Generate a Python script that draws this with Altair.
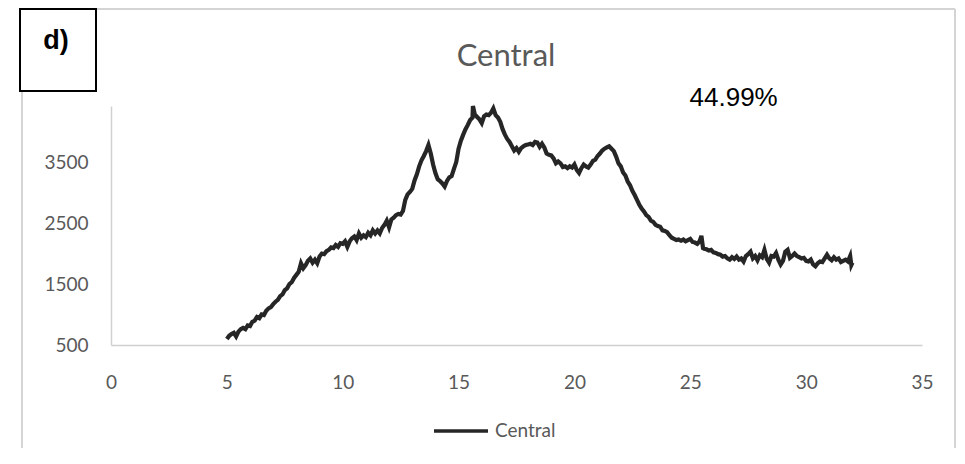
import altair as alt
import pandas as pd

# ---------------- data ----------------
x_vals = [
    5.00, 5.10, 5.20, 5.30, 5.40, 5.50, 5.60, 5.70, 5.80, 5.90,
    6.00, 6.10, 6.20, 6.30, 6.40, 6.50, 6.60, 6.70, 6.80, 6.90,
    7.00, 7.10, 7.20, 7.30, 7.40, 7.50, 7.60, 7.70, 7.80, 7.90,
    8.00, 8.10, 8.20, 8.30, 8.40, 8.50, 8.60, 8.70, 8.80, 8.90,
    9.00, 9.10, 9.20, 9.30, 9.40, 9.50, 9.60, 9.70, 9.80, 9.90,
    10.00, 10.10, 10.20, 10.30, 10.40, 10.50, 10.60, 10.70, 10.80, 10.90,
    11.00, 11.10, 11.20, 11.30, 11.40, 11.50, 11.60, 11.70, 11.80, 11.90,
    12.00, 12.10, 12.20, 12.30, 12.40, 12.50, 12.60, 12.70, 12.80, 12.90,
    13.00, 13.10, 13.20, 13.30, 13.40, 13.50, 13.60, 13.70, 13.80, 13.90,
    14.00, 14.10, 14.20, 14.30, 14.40, 14.50, 14.60, 14.70, 14.80, 14.90,
    15.00, 15.10, 15.20, 15.30, 15.40, 15.50, 15.60, 15.62, 15.70, 15.80, 15.90,
    16.00, 16.10, 16.20, 16.30, 16.40, 16.50, 16.60, 16.70, 16.80, 16.90,
    17.00, 17.10, 17.20, 17.30, 17.40, 17.50, 17.60, 17.70, 17.80, 17.90,
    18.00, 18.10, 18.20, 18.30, 18.40, 18.50, 18.60, 18.70, 18.80, 18.90,
    19.00, 19.10, 19.20, 19.30, 19.40, 19.50, 19.60, 19.70, 19.80, 19.90,
    20.00, 20.10, 20.20, 20.30, 20.40, 20.50, 20.60, 20.70, 20.80, 20.90,
    21.00, 21.10, 21.20, 21.30, 21.40, 21.50, 21.60, 21.70, 21.80, 21.90,
    22.00, 22.10, 22.20, 22.30, 22.40, 22.50, 22.60, 22.70, 22.80, 22.90,
    23.00, 23.10, 23.20, 23.30, 23.40, 23.50, 23.60, 23.70, 23.80, 23.90,
    24.00, 24.10, 24.20, 24.30, 24.40, 24.50, 24.60, 24.70, 24.80, 24.90,
    25.00, 25.10, 25.20, 25.30, 25.40, 25.48, 25.55, 25.60, 25.70, 25.80, 25.90,
    26.00, 26.10, 26.20, 26.30, 26.40, 26.50, 26.60, 26.70, 26.80, 26.90,
    27.00, 27.10, 27.20, 27.30, 27.40, 27.50, 27.60, 27.70, 27.80, 27.90,
    28.00, 28.10, 28.20, 28.30, 28.40, 28.50, 28.60, 28.70, 28.80, 28.90,
    29.00, 29.10, 29.20, 29.30, 29.40, 29.50, 29.60, 29.70, 29.80, 29.90,
    30.00, 30.10, 30.20, 30.30, 30.40, 30.50, 30.60, 30.70, 30.80, 30.90,
    31.00, 31.10, 31.20, 31.30, 31.40, 31.50, 31.60, 31.70, 31.80, 31.90,
    31.95, 32.00,
]
y_vals = [
    600, 650, 680, 700, 640, 720, 760, 780, 760, 820,
    810, 880, 900, 960, 940, 1000, 990, 1060, 1100, 1120,
    1170, 1210, 1240, 1300, 1330, 1400, 1430, 1500, 1530, 1600,
    1650, 1700, 1840, 1760, 1810, 1880, 1920, 1850, 1900, 1840,
    1950, 2000, 1990, 2040, 2060, 2100, 2090, 2140, 2110, 2170,
    2160, 2200, 2110, 2200, 2250, 2280, 2220, 2330, 2260, 2300,
    2270, 2340, 2300, 2380, 2330, 2380, 2330, 2420, 2470, 2540,
    2430, 2560, 2590, 2630, 2650, 2640, 2700, 2880, 2970, 3010,
    3060, 3200, 3300, 3430, 3530, 3600, 3680, 3780, 3640, 3460,
    3320, 3220, 3190, 3150, 3100, 3190, 3250, 3270, 3390, 3500,
    3720, 3850, 3950, 4040, 4110, 4190, 4230, 4420, 4280, 4240, 4200,
    4140, 4250, 4280, 4270, 4310, 4380, 4270, 4230, 4160, 4040,
    3950, 3880, 3830, 3760, 3690, 3730, 3670, 3730, 3760, 3780,
    3790, 3800, 3780, 3830, 3820, 3750, 3800, 3740, 3640, 3620,
    3610, 3560, 3480, 3510, 3480, 3420, 3430, 3400, 3430, 3410,
    3460, 3370, 3320, 3400, 3460, 3430, 3410, 3460, 3520, 3540,
    3600, 3640, 3690, 3720, 3740, 3760, 3720, 3680, 3590, 3480,
    3430, 3330, 3280, 3180, 3120, 3030, 2960, 2880, 2800, 2740,
    2690, 2630, 2600, 2540, 2520, 2470, 2450, 2440, 2380, 2370,
    2350, 2300, 2260, 2240, 2220, 2230, 2210, 2230, 2200, 2220,
    2240, 2190, 2180, 2160, 2200, 2290, 2090, 2080, 2070, 2050, 2060,
    2020, 2010, 1990, 1980, 1950, 1960, 1920, 1900, 1940, 1910,
    1950, 1900, 1920, 1870, 1960, 1990, 2030, 1920, 1960, 1890,
    1970, 1940, 2060, 1910, 1850, 1960, 1950, 2010, 1900, 1820,
    1880, 2030, 2060, 1930, 1960, 2000, 1960, 1940, 1920, 1930,
    1880, 1870, 1900, 1820, 1790, 1840, 1870, 1860, 1920, 1980,
    1920, 1890, 1940, 1900, 1920, 1860, 1880, 1900, 1870, 1960,
    1810, 1850,
]
series_name = "Central"
title_text = ["Central"]
panel_label = ["d)"]
ann_x = [26.87]
ann_y = [4420]
ann_text = ["44.99%"]
x_ticks = [0, 5, 10, 15, 20, 25, 30, 35]
y_ticks = [500, 1500, 2500, 3500]
x_domain = [0, 35]
y_domain = [500, 4420]

df = pd.DataFrame({"x": x_vals, "y": y_vals, "series": series_name})
ann_df = pd.DataFrame({"x": ann_x, "y": ann_y, "t": ann_text})
one = pd.DataFrame({"t": panel_label})
title_df = pd.DataFrame({"t": title_text})

W, H = 811, 239
GREY = "#595959"
AXIS_GREY = "#d0d0d0"

x_scale = alt.Scale(domain=x_domain, nice=False, zero=False)
y_scale = alt.Scale(domain=y_domain, nice=False, zero=False)

line = alt.Chart(df).mark_line(strokeWidth=4.2, clip=False).encode(
    x=alt.X("x:Q", scale=x_scale, axis=alt.Axis(
        values=x_ticks, title=None, ticks=False, grid=False, format="d",
        domainColor=AXIS_GREY, domainWidth=1.5, labelFlush=False,
        labelFont="Lato", labelFontSize=19, labelColor=GREY, labelPadding=28)),
    y=alt.Y("y:Q", scale=y_scale, axis=alt.Axis(
        values=y_ticks, title=None, ticks=False, grid=False, format="d",
        domainColor=AXIS_GREY, domainWidth=1.5, labelFlush=False,
        labelFont="Lato", labelFontSize=19, labelColor=GREY, labelPadding=23)),
    color=alt.Color("series:N", scale=alt.Scale(range=["#262626"]), legend=alt.Legend(
        title=None, orient="none", legendX=321, legendY=296, padding=0,
        symbolType="stroke", symbolSize=2916, symbolStrokeWidth=3.5,
        labelFont="Lato", labelFontSize=19, labelColor=GREY, labelOffset=5)),
)

ann = alt.Chart(ann_df).mark_text(
    font="Liberation Sans", fontSize=26, color="#000000",
    baseline="alphabetic", align="center").encode(
    x=alt.X("x:Q", scale=x_scale),
    y=alt.Y("y:Q", scale=y_scale),
    text="t:N",
)

title_mark = alt.Chart(title_df).mark_text(
    font="Lato", fontSize=31, color=GREY, align="center", baseline="alphabetic").encode(
    x=alt.value(395), y=alt.value(-40), text="t:N")

# chart-area frame (top, left, right edges)
frame_top = alt.Chart(one).mark_rule(color="#d4d4d4", strokeWidth=2).encode(
    x=alt.value(-89), x2=alt.value(844), y=alt.value(-97))
frame_left = alt.Chart(one).mark_rule(color="#d4d4d4", strokeWidth=2).encode(
    x=alt.value(-89), y=alt.value(-97), y2=alt.value(400))
frame_right = alt.Chart(one).mark_rule(color="#d4d4d4", strokeWidth=2).encode(
    x=alt.value(844), y=alt.value(-97), y2=alt.value(400))

box = alt.Chart(one).mark_rect(fill="white", stroke="black", strokeWidth=2).encode(
    x=alt.value(-91), x2=alt.value(-15), y=alt.value(-97), y2=alt.value(-15))
box_text = alt.Chart(one).mark_text(
    font="Liberation Sans", fontSize=27, fontWeight="bold", color="black",
    align="center", baseline="alphabetic").encode(
    x=alt.value(-55), y=alt.value(-57), text="t:N")

chart = alt.layer(frame_top, frame_left, frame_right, box, box_text, title_mark, line, ann).properties(
    width=W, height=H,
    background="white",
    padding={"left": 103, "top": 98, "right": 35, "bottom": 103},
    autosize=alt.AutoSizeParams(type="none"),
).configure_view(strokeWidth=0, stroke="transparent")

chart.save("out.html", embed_options={"renderer": "svg", "actions": False})
